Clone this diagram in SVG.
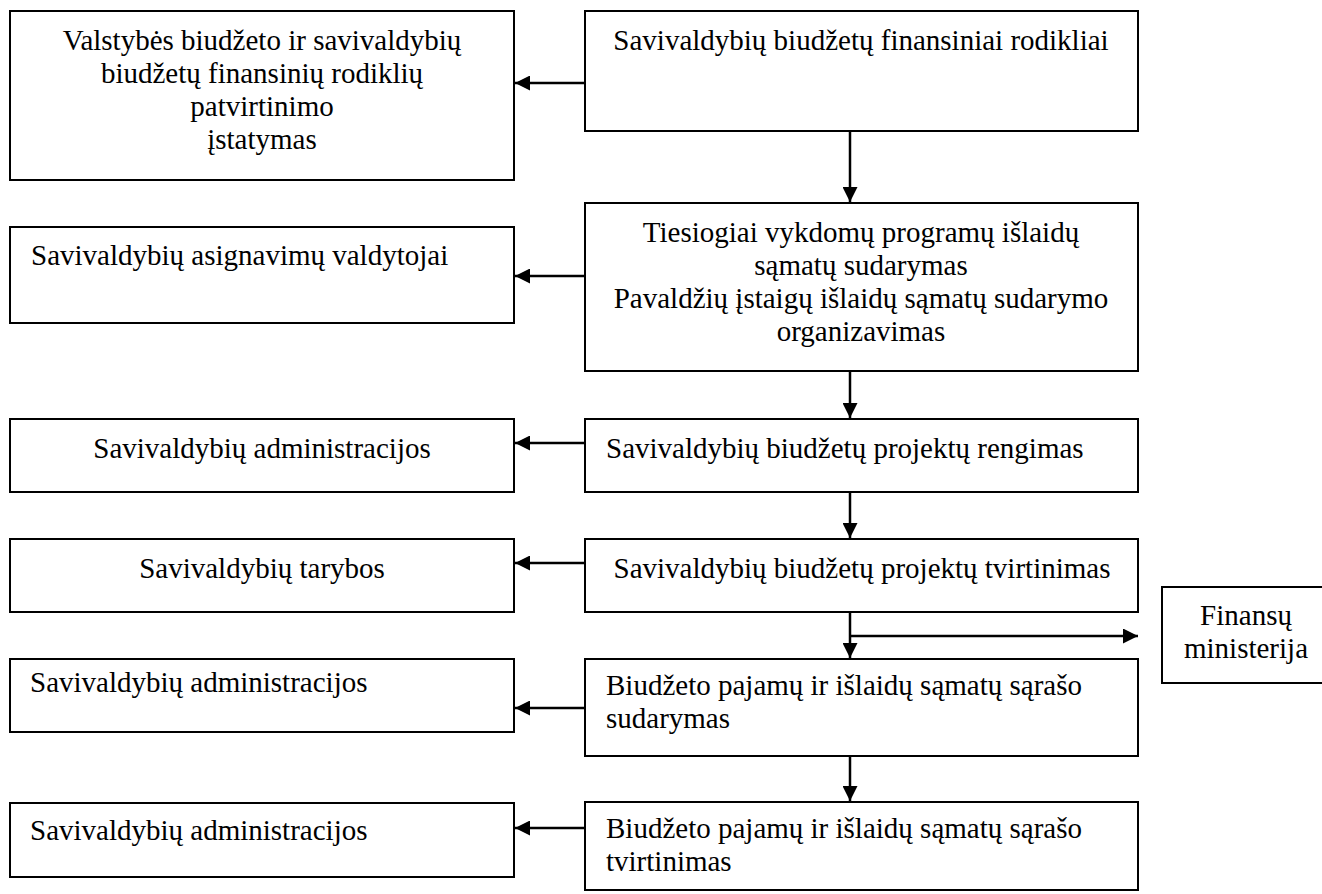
<svg xmlns="http://www.w3.org/2000/svg" width="1322" height="894" viewBox="0 0 1322 894">
<style>
.box{fill:#fff;stroke:#000;stroke-width:2}
.t{font-family:"Liberation Serif","Times New Roman",serif;font-size:29px;fill:#000}
.m{text-anchor:middle}
.c{fill:none;stroke:#000;stroke-width:2.5}
</style>
<defs>
<marker id="ah" viewBox="0 0 10 10" refX="10" refY="5" markerWidth="16" markerHeight="15" markerUnits="userSpaceOnUse" orient="auto">
<path d="M0,0 L10,5 L0,10 Z" fill="#000"/>
</marker>
</defs>
<rect width="1322" height="894" fill="#fff"/>
<g id="connectors">
<line class="c" x1="585" y1="83" x2="515" y2="83" marker-end="url(#ah)"/>
<line class="c" x1="850" y1="131" x2="850" y2="202" marker-end="url(#ah)"/>
<line class="c" x1="585" y1="276" x2="515" y2="276" marker-end="url(#ah)"/>
<line class="c" x1="850" y1="371" x2="850" y2="418" marker-end="url(#ah)"/>
<line class="c" x1="585" y1="443" x2="515" y2="443" marker-end="url(#ah)"/>
<line class="c" x1="850" y1="492" x2="850" y2="538" marker-end="url(#ah)"/>
<line class="c" x1="585" y1="563" x2="515" y2="563" marker-end="url(#ah)"/>
<line class="c" x1="850" y1="612" x2="850" y2="658" marker-end="url(#ah)"/>
<line class="c" x1="849" y1="636" x2="1138" y2="636" marker-end="url(#ah)"/>
<line class="c" x1="585" y1="708" x2="515" y2="708" marker-end="url(#ah)"/>
<line class="c" x1="850" y1="756" x2="850" y2="801" marker-end="url(#ah)"/>
<line class="c" x1="585" y1="828" x2="515" y2="828" marker-end="url(#ah)"/>
</g>
<g id="n-istatymas">
<rect class="box" x="10" y="11" width="504" height="169"/>
<text class="t m" x="262" y="50">Valstybės biudžeto ir savivaldybių</text>
<text class="t m" x="262" y="83">biudžetų finansinių rodiklių</text>
<text class="t m" x="262" y="116">patvirtinimo</text>
<text class="t m" x="262" y="149">įstatymas</text>
</g>
<g id="n-rodikliai">
<rect class="box" x="585" y="11" width="553" height="120"/>
<text class="t m" x="861" y="50">Savivaldybių biudžetų finansiniai rodikliai</text>
</g>
<g id="n-valdytojai">
<rect class="box" x="10" y="227" width="504" height="96"/>
<text class="t" x="31" y="265">Savivaldybių asignavimų valdytojai</text>
</g>
<g id="n-samatos">
<rect class="box" x="585" y="203" width="553" height="168"/>
<text class="t m" x="861" y="242">Tiesiogiai vykdomų programų išlaidų</text>
<text class="t m" x="861" y="275">sąmatų sudarymas</text>
<text class="t m" x="861" y="308">Pavaldžių įstaigų išlaidų sąmatų sudarymo</text>
<text class="t m" x="861" y="341">organizavimas</text>
</g>
<g id="n-admin1">
<rect class="box" x="10" y="419" width="504" height="73"/>
<text class="t m" x="262" y="458">Savivaldybių administracijos</text>
</g>
<g id="n-rengimas">
<rect class="box" x="585" y="419" width="553" height="73"/>
<text class="t" x="606" y="458">Savivaldybių biudžetų projektų rengimas</text>
</g>
<g id="n-tarybos">
<rect class="box" x="10" y="539" width="504" height="73"/>
<text class="t m" x="262" y="578">Savivaldybių tarybos</text>
</g>
<g id="n-tvirtinimas">
<rect class="box" x="585" y="539" width="553" height="73"/>
<text class="t m" x="862" y="578">Savivaldybių biudžetų projektų tvirtinimas</text>
</g>
<g id="n-finansu">
<rect class="box" x="1162" y="587" width="180" height="96"/>
<text class="t m" x="1246" y="625">Finansų</text>
<text class="t m" x="1246" y="658">ministerija</text>
</g>
<g id="n-admin2">
<rect class="box" x="10" y="659" width="504" height="73"/>
<text class="t" x="30" y="692">Savivaldybių administracijos</text>
</g>
<g id="n-sudarymas">
<rect class="box" x="585" y="659" width="553" height="97"/>
<text class="t" x="606" y="695">Biudžeto pajamų ir išlaidų sąmatų sąrašo</text>
<text class="t" x="606" y="728">sudarymas</text>
</g>
<g id="n-admin3">
<rect class="box" x="10" y="803" width="504" height="74"/>
<text class="t" x="30" y="840">Savivaldybių administracijos</text>
</g>
<g id="n-tvirt2">
<rect class="box" x="585" y="802" width="553" height="88"/>
<text class="t" x="606" y="838">Biudžeto pajamų ir išlaidų sąmatų sąrašo</text>
<text class="t" x="606" y="871">tvirtinimas</text>
</g>
</svg>
